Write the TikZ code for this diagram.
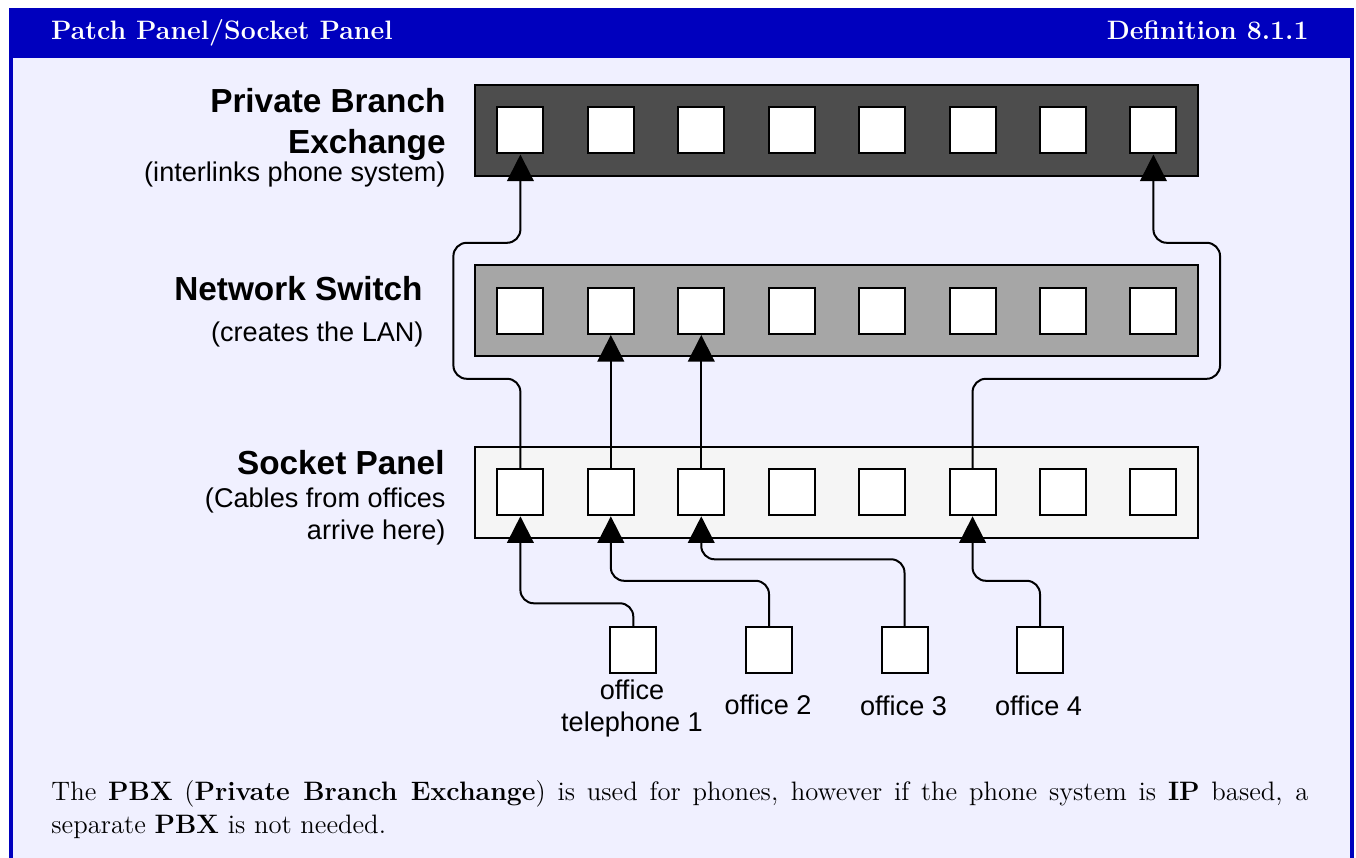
\documentclass[tikz,border=0pt]{standalone}
\usepackage{fontspec}
\newfontfamily\diagfont{Liberation Sans}
\usetikzlibrary{arrows.meta,positioning}

\definecolor{headblue}{RGB}{0,0,190}
\definecolor{boxback}{RGB}{240,240,255}
\definecolor{pbxgray}{RGB}{77,77,77}
\definecolor{switchgray}{RGB}{166,166,166}
\definecolor{socketgray}{RGB}{245,245,245}

\tikzset{
  panel/.style={draw=black, line width=0.9pt, minimum width=325.35pt, minimum height=40.95pt, inner sep=0pt},
  jack/.style={draw=black, fill=white, line width=0.9pt, minimum size=20.7pt, inner sep=0pt},
  cable/.style={line width=0.9pt, rounded corners=6pt, -{Triangle[length=12pt,width=12pt]}},
  paneltitle/.style={font=\diagfont\bfseries\fontsize{15}{18}\selectfont, anchor=base east, inner sep=0pt},
  panelnote/.style={font=\diagfont\fontsize{12.2}{14.4}\selectfont, anchor=base east, inner sep=0pt},
  officelabel/.style={font=\diagfont\fontsize{12.2}{14.4}\selectfont, align=center, anchor=base, inner sep=0pt},
}

\begin{document}
\begin{tikzpicture}[x=0.45pt, y=-0.45pt]
\clip (0,0) rectangle (1356,858);

% Box frame and header
\fill[headblue] (9,8) rectangle (1354,880);
\fill[boxback] (13,58) rectangle (1350,880);
\node[anchor=base west, text=white, font=\bfseries\fontsize{12}{14.4}\selectfont, inner sep=0pt] (boxtitle) at (50.7,40) {Patch Panel/Socket Panel};
\node[anchor=base east, text=white, font=\bfseries\fontsize{12}{14.4}\selectfont, inner sep=0pt] (boxnumber) at (1309,40) {Definition 8.1.1};

% Panels
\node[panel, fill=pbxgray] (pbx) at (836.5,130.5) {};
\node[panel, fill=switchgray] (switch) at (836.5,311) {};
\node[panel, fill=socketgray] (socket) at (836.5,492.5) {};

% Jacks in the panels
\foreach \i in {1,...,8} {
  \node[jack] (p\i) at ({520.4+(\i-1)*90.43},130.5) {};
  \node[jack] (w\i) at ({520.4+(\i-1)*90.43},311) {};
  \node[jack] (s\i) at ({520.4+(\i-1)*90.43},492.3) {};
}

% Panel labels
\node[paneltitle] (pbxname1) at (446,113) {Private Branch};
\node[paneltitle] (pbxname2) at (446,154) {Exchange};
\node[panelnote] (pbxnote) at (446,181.5) {(interlinks phone system)};
\node[paneltitle] (switchname) at (423,300.7) {Network Switch};
\node[panelnote] (switchnote) at (424,341.7) {(creates the LAN)};
\node[paneltitle] (socketname) at (445,474.3) {Socket Panel};
\node[panelnote] (socketnote1) at (446,508) {(Cables from offices};
\node[panelnote] (socketnote2) at (446,540) {arrive here)};

% Offices
\node[jack] (off1) at (633.3,650.3) {};
\node[jack] (off2) at (769,650.3) {};
\node[jack] (off3) at (904.5,650.3) {};
\node[jack] (off4) at (1040,650.3) {};
\node[officelabel] (off1name) at (632,731.7) {office\\telephone 1};
\node[officelabel] (off2name) at (768,715) {office 2};
\node[officelabel] (off3name) at (903.5,715.5) {office 3};
\node[officelabel] (off4name) at (1038.5,715.5) {office 4};

% Cables from the offices
\draw[cable] (off1.north) -- ++(0,-23) -| (s1.south);
\draw[cable] (off2.north) -- ++(0,-45.5) -| (s2.south);
\draw[cable] (off3.north) -- ++(0,-67) -| (s3.south);
\draw[cable] (off4.north) -- ++(0,-45.5) -| (s6.south);

% Patch cords
\draw[cable] (s2.north) -- (w2.south);
\draw[cable] (s3.north) -- (w3.south);
\draw[cable] (s1.north) -- ++(0,-89.5) -- ++(-67,0) -- ++(0,-136) -| (p1.south);
\draw[cable] (s6.north) -- ++(0,-89.5) -- ++(247.5,0) -- ++(0,-136) -| (p8.south);

% Remark
\node[anchor=base west, text width=565.6pt, align=justify, inner sep=0pt, font=\fontsize{12}{14.6}\selectfont] (remark) at (51,800.7)
  {The \textbf{PBX} (\textbf{Private Branch Exchange}) is used for phones, however if the phone system is \textbf{IP} based, a\linebreak separate \textbf{PBX} is not needed.};
\end{tikzpicture}
\end{document}
